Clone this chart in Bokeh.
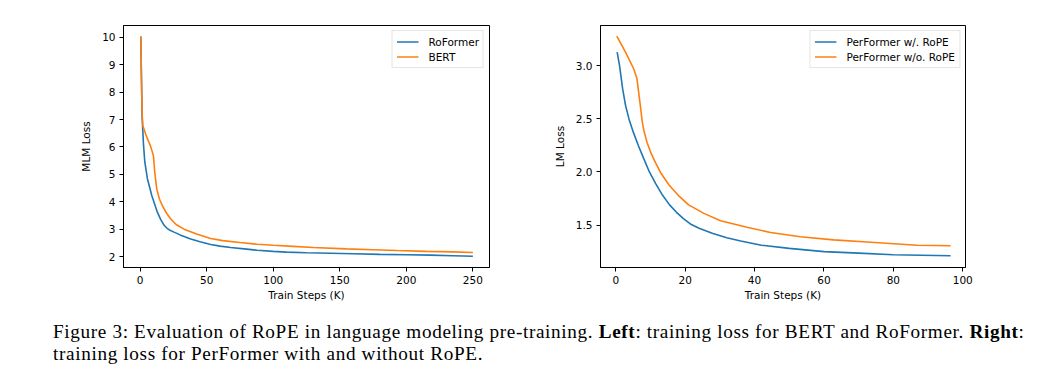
from bokeh.plotting import figure
from bokeh.models import Range1d, FixedTicker, PrintfTickFormatter, Legend, LegendItem, Div
from bokeh.layouts import row, column
from bokeh.embed import file_html
from bokeh.resources import INLINE

# ---- data: left panel (MLM loss vs train steps, K) ----
roformer_x = [0.5, 1.0, 1.5, 2.0, 2.5, 3.5, 5.5, 8.8, 13, 15.5, 18, 20, 22, 25.5, 30, 38, 45, 53, 60, 68,
              80, 88, 100, 110, 125, 143, 160, 180, 200, 218, 235, 250]
roformer_y = [10.03, 8.5, 7.1, 6.6, 6.1, 5.45, 4.83, 4.22, 3.61, 3.35, 3.14, 3.04, 2.97, 2.89, 2.79, 2.64, 2.54,
              2.44, 2.38, 2.33, 2.27, 2.23, 2.19, 2.16, 2.14, 2.12, 2.10, 2.08, 2.065, 2.05, 2.03, 2.01]

bert_x = [0.5, 1.0, 1.5, 2.0, 4.25, 6.75, 8.0, 9.25, 10, 11, 12.5, 14.5, 16.8, 20, 23, 27, 33, 43,
          53, 62, 75, 88, 100, 115, 130, 155, 175, 193, 215, 235, 250]
bert_y = [10.03, 8.5, 7.2, 6.78, 6.45, 6.15, 6.0, 5.8, 5.67, 5.07, 4.46, 4.1, 3.85, 3.57, 3.37, 3.17,
          3.0, 2.81, 2.66, 2.58, 2.51, 2.45, 2.41, 2.37, 2.33, 2.28, 2.25, 2.22, 2.19, 2.17, 2.15]

# ---- data: right panel (LM loss vs train steps, K) ----
rope_x = [0.4, 1.1, 2.0, 2.8, 3.8, 5.0, 6.5, 8.0, 9.7, 11.5, 13.5, 15.5, 17.5, 19.5, 21.5, 24, 28,
          32, 36, 42, 50, 60, 70, 80, 88, 96.5]
rope_y = [3.13, 3.0, 2.78, 2.63, 2.5, 2.38, 2.25, 2.13, 2.0, 1.89, 1.78, 1.69, 1.62, 1.56, 1.51,
          1.47, 1.42, 1.38, 1.35, 1.31, 1.28, 1.25, 1.235, 1.22, 1.215, 1.21]

norope_x = [0.3, 2.8, 5.2, 6.1, 6.6, 7.1, 7.6, 8.1, 9.0, 10, 11.4, 13, 15.3, 18, 21, 25.4, 30.2,
            37.8, 44.6, 53.2, 62.8, 72.4, 86.8, 96.5]
norope_y = [3.28, 3.13, 2.97, 2.88, 2.75, 2.62, 2.48, 2.39, 2.28, 2.19, 2.09, 1.99, 1.88, 1.78,
            1.69, 1.61, 1.54, 1.48, 1.43, 1.39, 1.36, 1.34, 1.31, 1.305]

left_xticks = [0, 50, 100, 150, 200, 250]
left_yticks = [2, 3, 4, 5, 6, 7, 8, 9, 10]
right_xticks = [0, 20, 40, 60, 80, 100]
right_yticks = [1.5, 2.0, 2.5, 3.0]

BLUE = "#1f77b4"
ORANGE = "#ff7f0e"
FONT = "DejaVu Sans"
FS = "10.5px"


def style(p, xlabel, ylabel):
    p.outline_line_color = "black"
    p.outline_line_width = 1
    p.grid.visible = False
    for ax in (p.xaxis[0], p.yaxis[0]):
        ax.axis_line_color = "black"
        ax.major_tick_line_color = "black"
        ax.major_tick_out = 4
        ax.major_tick_in = 0
        ax.minor_tick_line_color = None
        ax.major_label_text_font = FONT
        ax.major_label_text_font_size = FS
        ax.major_label_text_color = "black"
        ax.axis_label_text_font = FONT
        ax.axis_label_text_font_size = FS
        ax.axis_label_text_font_style = "normal"
        ax.axis_label_text_color = "black"
        ax.major_label_standoff = 4
    p.xaxis[0].axis_label = xlabel
    p.yaxis[0].axis_label = ylabel
    p.xaxis[0].axis_label_standoff = 2
    p.yaxis[0].axis_label_standoff = 7


def add_legend(p, items):
    leg = Legend(items=items, location="top_right")
    leg.margin = 5
    leg.padding = 4
    leg.spacing = 2
    leg.label_height = 13
    leg.glyph_height = 13
    leg.glyph_width = 22
    leg.label_standoff = 10
    leg.label_text_font = FONT
    leg.label_text_font_size = FS
    leg.label_text_color = "black"
    leg.border_line_color = "#cccccc"
    leg.background_fill_alpha = 0.8
    p.add_layout(leg)


# ---- left figure ----
p1 = figure(width=538, height=307, output_backend="svg", toolbar_location=None,
            x_range=Range1d(-12.5, 262.5), y_range=Range1d(1.6, 10.43),
            min_border_left=123, min_border_right=49, min_border_top=25, min_border_bottom=40)
style(p1, "Train Steps (K)", "MLM Loss")
p1.xaxis[0].ticker = FixedTicker(ticks=left_xticks)
p1.yaxis[0].ticker = FixedTicker(ticks=left_yticks)
r1 = p1.line(roformer_x, roformer_y, line_color=BLUE, line_width=1.6)
r2 = p1.line(bert_x, bert_y, line_color=ORANGE, line_width=1.6)
add_legend(p1, [LegendItem(label="RoFormer", renderers=[r1]), LegendItem(label="BERT", renderers=[r2])])

# ---- right figure ----
p2 = figure(width=508, height=307, output_backend="svg", toolbar_location=None,
            x_range=Range1d(-4.4, 100.8), y_range=Range1d(1.10, 3.38),
            min_border_left=62, min_border_right=81, min_border_top=25, min_border_bottom=40)
style(p2, "Train Steps (K)", "LM Loss")
p2.xaxis[0].ticker = FixedTicker(ticks=right_xticks)
p2.yaxis[0].ticker = FixedTicker(ticks=right_yticks)
p2.yaxis[0].formatter = PrintfTickFormatter(format="%.1f")
r3 = p2.line(rope_x, rope_y, line_color=BLUE, line_width=1.6)
r4 = p2.line(norope_x, norope_y, line_color=ORANGE, line_width=1.6)
add_legend(p2, [LegendItem(label="PerFormer w/. RoPE", renderers=[r3]),
                LegendItem(label="PerFormer w/o. RoPE", renderers=[r4])])

caption = Div(
    text=("<div style=\"font-family:'Liberation Serif'; font-size:19.2px; line-height:21.5px; "
          "letter-spacing:0.65px; margin-left:53px; margin-top:14px; white-space:nowrap; color:black;\">"
          "Figure 3: Evaluation of RoPE in language modeling pre-training. <b>Left</b>: training loss for "
          "BERT and RoFormer. <b>Right</b>:<br>training loss for PerFormer with and without RoPE.</div>"),
    width=1046, height=72, margin=(0, 0, 0, 0))

layout = column(row(p1, p2, spacing=0), caption, spacing=0)

open("out.html", "w").write(file_html(layout, INLINE))
